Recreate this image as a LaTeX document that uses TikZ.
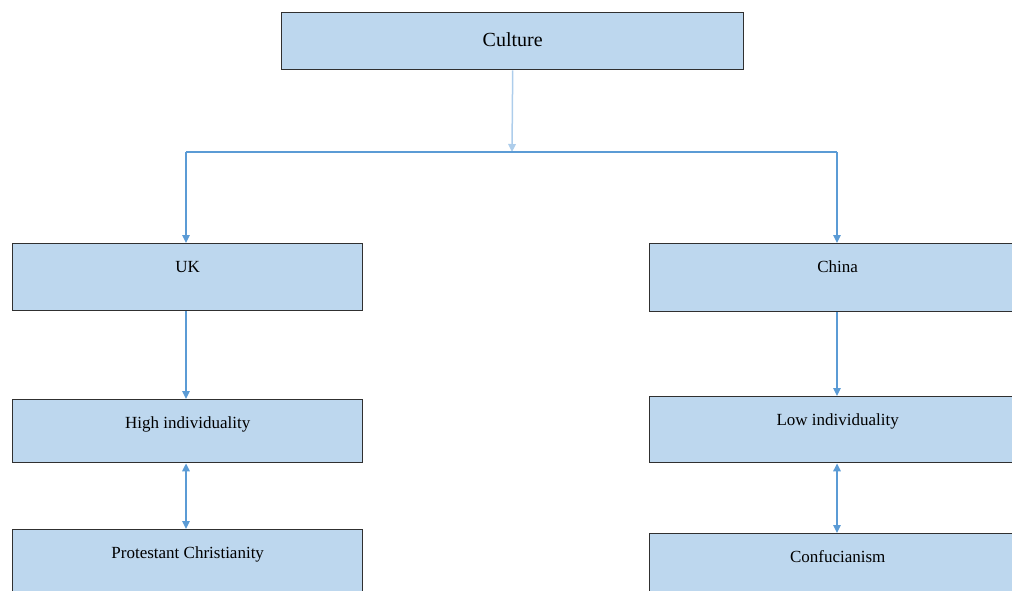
\documentclass[tikz,border=0pt]{standalone}
\usepackage{fontspec}
\setmainfont{Liberation Serif}
\usetikzlibrary{arrows.meta}
\definecolor{boxfill}{HTML}{BDD7EE}
\definecolor{boxline}{HTML}{303030}
\definecolor{conn}{HTML}{5B9BD5}
\definecolor{connlight}{HTML}{ADCDEB}
\tikzset{
  box/.style={draw=boxline, fill=boxfill, line width=1.4pt, anchor=north west,
    inner xsep=0pt, inner ysep=0pt, align=center,
    font=\fontsize{17}{20}\selectfont},
  conline/.style={draw=conn, line width=1.5pt},
  conarrow/.style={conline, -{Triangle[width=7.5pt,length=8pt]}},
  dblarrow/.style={conline, {Triangle[width=7.5pt,length=8pt]}-{Triangle[width=7.5pt,length=8pt]}}
}
\begin{document}
\begin{tikzpicture}[x=1pt,y=-1pt]
\useasboundingbox (0,0) rectangle (1012,590);
\clip (0,0) rectangle (1012,590);
% boxes
\node[box, minimum width=462pt, text height=34pt, text depth=23pt,
      font=\fontsize{20}{24}\selectfont] (culture) at (281,12) {Culture};
\node[box, minimum width=350pt, text height=29pt, text depth=38pt] (uk) at (12,243) {UK};
\node[box, minimum width=350pt, text height=29pt, text depth=34pt] (high) at (12,399) {High individuality};
\node[box, minimum width=350pt, text height=29pt, text depth=60pt] (prot) at (12,529) {Protestant Christianity};
\node[box, minimum width=376pt, text height=29pt, text depth=39pt] (china) at (649,243) {China};
\node[box, minimum width=376pt, text height=29pt, text depth=37pt] (low) at (649,396) {Low individuality};
\node[box, minimum width=376pt, text height=29pt, text depth=60pt] (conf) at (649,533) {Confucianism};
% connectors
\coordinate (j) at (512,152);
\coordinate (jl) at (186,152);
\coordinate (jr) at (837,152);
\draw[conarrow, draw=connlight, line width=1.5pt] (culture.south) -- (j);
\draw[conline] (jl) -- (jr);
\draw[conarrow] (jl) -- (jl |- uk.north);
\draw[conarrow] (jr) -- (jr |- china.north);
\draw[conarrow] (uk.south -| jl) -- (high.north -| jl);
\draw[dblarrow] (high.south -| jl) -- (prot.north -| jl);
\draw[conarrow] (china.south -| jr) -- (low.north -| jr);
\draw[dblarrow] (low.south -| jr) -- (conf.north -| jr);
\end{tikzpicture}
\end{document}
